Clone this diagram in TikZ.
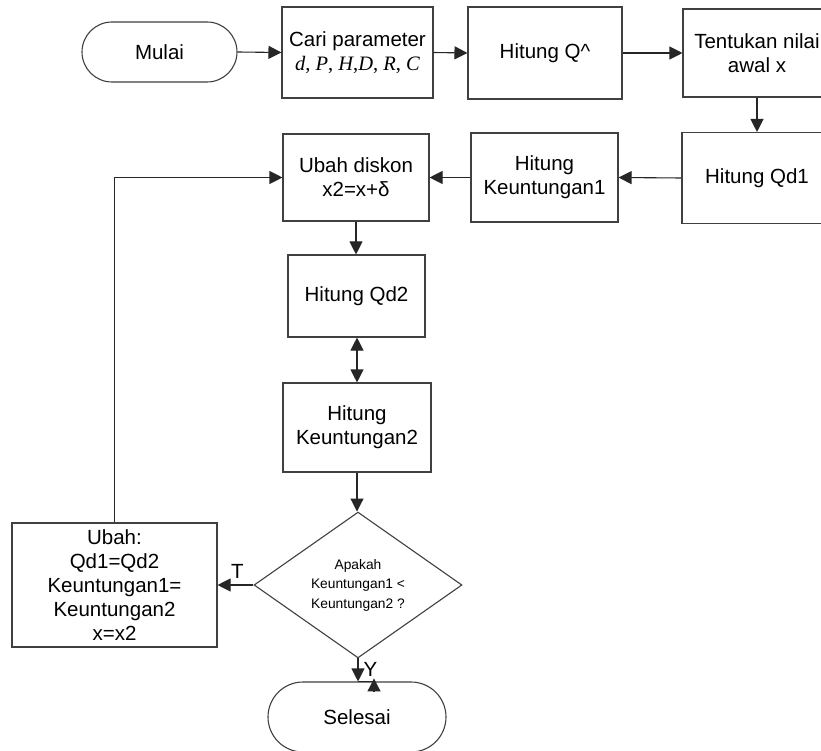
\documentclass[tikz,border=0pt]{standalone}
\usepackage{fontspec}
\setmainfont{Liberation Sans}
\newfontfamily\sersf{Liberation Serif}
\usetikzlibrary{arrows.meta,shapes.geometric,calc}
\begin{document}
\begin{tikzpicture}[x=1pt,y=-1pt,
  box/.style={draw=black!75, line width=1.1pt, align=center, inner sep=0pt,
    font=\fontsize{20.5}{24}\selectfont},
  term/.style={box, rounded corners=#1},
  dia/.style={diamond, draw=black!75, line width=1.1pt, align=center, inner sep=0pt,
    font=\fontsize{13.8}{19.5}\selectfont},
  lab/.style={font=\fontsize{20.5}{24}\selectfont, inner sep=0pt},
  conn/.style={draw=black!85, line width=1.1pt},
  arr/.style={conn, -{Triangle[length=13pt,width=13pt]}},
  darr/.style={conn, {Triangle[length=13pt,width=13pt]}-{Triangle[length=13pt,width=13pt]}},
]
\clip (0,0) rectangle (821,751);
\fill[white] (0,0) rectangle (821,751);

\node[term=30pt, minimum width=155pt, minimum height=60pt] (mulai) at (159.5,52) {Mulai};
\node[box, minimum width=151pt, minimum height=91pt] (cari) at (357.5,52.5)
  {Cari parameter\\{\sersf\textit{d}, \textit{P}, \textit{H},\textit{D}, \textit{R}, \textit{C}}};
\node[box, minimum width=154pt, minimum height=92pt] (qhat) at (545,53) {Hitung Q\^{}};
\node[box, minimum width=148pt, minimum height=88pt] (tent) at (757,53) {Tentukan nilai\\awal x};
\node[box, minimum width=150pt, minimum height=91pt] (qd1) at (757,178) {Hitung Qd1};
\node[box, minimum width=147pt, minimum height=89pt] (keu1) at (544.5,177.5) {Hitung\\Keuntungan1};
\node[box, minimum width=146pt, minimum height=87pt] (disk) at (356,177.5) {Ubah diskon\\x2=x+δ};
\node[box, minimum width=137pt, minimum height=82pt] (qd2) at (356.5,296) {Hitung Qd2};
\node[box, minimum width=148pt, minimum height=89pt] (keu2) at (357,427.5) {Hitung\\Keuntungan2};
\node[dia, minimum width=208pt, minimum height=124pt] (cek) at (358,585)
  {Apakah\\Keuntungan1 <\\Keuntungan2 ?};
\node[box, minimum width=205pt, minimum height=124pt] (ubah) at (114.5,585)
  {Ubah:\\Qd1=Qd2\\Keuntungan1=\\Keuntungan2\\x=x2};
\node[term=35pt, minimum width=178pt, minimum height=70pt] (sel) at (357,717) {Selesai};

\draw[arr] (mulai.east) -- (cari.west);
\draw[arr] (cari.east) -- (qhat.west);
\draw[arr] (qhat.east) -- (qhat.east -| tent.west);
\draw[arr] (tent.south) -- (qd1.north);
\draw[arr] (qd1.west) -- (keu1.east);
\draw[arr] (keu1.west) -- (disk.east);
\draw[arr] (disk.south) -- (disk.south |- qd2.north);
\draw[darr] (keu2.north |- qd2.south) -- (keu2.north);
\draw[arr] (keu2.south) -- (keu2.south |- cek.north);
\draw[arr] (cek.west) -- node[lab, above=6pt, xshift=2pt] {T} (ubah.east);
\draw[arr] (ubah.north) |- (disk.west);
\draw[arr] (cek.south) -- node[lab, right=5pt, yshift=1pt] {Y} (cek.south |- sel.north);
\coordinate (ytip) at ($(cek.south |- sel.north)+(16,-3)$);
\draw[conn] (cek.south |- sel.north) -- ++(16,0);
\draw[arr] ($(ytip)+(0,13)$) -- (ytip);
\end{tikzpicture}
\end{document}
